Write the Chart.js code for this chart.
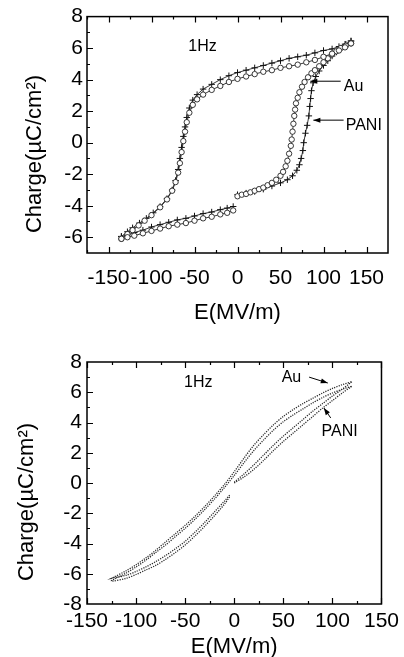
<!DOCTYPE html>
<html>
<head>
<meta charset="utf-8">
<script src="https://cdn.jsdelivr.net/npm/chart.js@4.4.0/dist/chart.umd.min.js"></script>
<style>
  html, body { margin: 0; padding: 0; background: #fff; overflow: hidden; }
  #wrap { position: relative; width: 404px; height: 657px; }
  canvas { position: absolute; left: 0; }
  #top { top: 0; }
  #bottom { top: 330px; }
</style>
</head>
<body>
<div id="wrap">
  <canvas id="top" width="404" height="330"></canvas>
  <canvas id="bottom" width="404" height="330"></canvas>
</div>
<script>
// ---- top panel (1Hz, square loops) : [E (MV/m), charge (uC/cm2)] ----
const auRise = [[0,-3.4],[5,-3.3],[10,-3.25],[15,-3.15],[20,-3.05],[25,-2.95],[30,-2.85],[35,-2.7],[40,-2.55],[45,-2.35],[50,-2.1],[53,-1.85],[56,-1.5],[58,-1.15],[60,-0.7],[62,-0.2],[63,0.2],[64,0.7],[65,1.2],[66,1.7],[67,2.1],[68,2.5],[70,2.85],[72,3.2],[75,3.55],[78,3.85],[82,4.15],[86,4.4],[90,4.6],[95,4.85],[100,5.1],[105,5.35],[110,5.6],[115,5.8],[120,6.0],[126,6.15],[132,6.3]];
const auFall = [[132,6.3],[125,6.05],[118,5.85],[110,5.65],[100,5.45],[90,5.25],[80,5.1],[70,4.95],[60,4.85],[50,4.75],[40,4.6],[30,4.5],[20,4.35],[10,4.2],[0,4.05],[-10,3.85],[-20,3.6],[-30,3.35],[-40,3.05],[-47,2.75],[-52,2.4],[-56,1.9],[-59,1.3],[-61,0.7],[-63,0.1],[-65,-0.6],[-67,-1.3],[-69,-1.9],[-72,-2.5],[-76,-3.05],[-82,-3.6],[-90,-4.1],[-100,-4.6],[-108,-4.95],[-115,-5.25],[-122,-5.55],[-128,-5.8],[-135,-6.1]];
const auBack = [[-135,-6.1],[-128,-6.0],[-120,-5.9],[-110,-5.75],[-100,-5.6],[-90,-5.45],[-80,-5.3],[-70,-5.2],[-60,-5.1],[-50,-4.95],[-40,-4.8],[-30,-4.7],[-20,-4.55],[-12,-4.45],[-5,-4.3]];
const paniRise = [[0,-3.3],[10,-3.2],[20,-3.1],[30,-2.95],[40,-2.75],[50,-2.55],[58,-2.35],[64,-2.1],[69,-1.75],[72,-1.4],[74,-1.0],[76,-0.5],[77,0],[79,0.6],[81,1.1],[83,1.7],[84,2.3],[85,2.8],[86,3.3],[88,3.8],[91,4.2],[95,4.55],[100,4.9],[105,5.2],[110,5.5],[115,5.75],[120,6.0],[126,6.25],[132,6.45]];
const paniFall = [[132,6.45],[125,6.25],[118,6.1],[110,5.95],[100,5.85],[90,5.7],[80,5.55],[70,5.45],[60,5.35],[50,5.2],[40,5.05],[30,4.9],[20,4.75],[10,4.6],[0,4.45],[-10,4.25],[-20,4.0],[-30,3.7],[-40,3.4],[-47,3.05],[-52,2.7],[-56,2.2],[-59,1.6],[-61,1.0],[-63,0.4],[-65,-0.3],[-67,-1.0],[-69,-1.7],[-72,-2.4],[-76,-3.0],[-82,-3.55],[-90,-4.05],[-98,-4.45],[-106,-4.8],[-114,-5.1],[-122,-5.4],[-128,-5.65],[-135,-5.95]];
const paniBack = [[-135,-5.95],[-128,-5.85],[-120,-5.7],[-110,-5.55],[-100,-5.35],[-90,-5.2],[-80,-5.05],[-70,-4.9],[-60,-4.8],[-50,-4.65],[-40,-4.5],[-30,-4.4],[-20,-4.25],[-12,-4.15],[-5,-4.05]];

// ---- bottom panel (1Hz, slim loops) ----
const auRise2 = [[0,0.05],[10,0.6],[20,1.2],[30,1.85],[40,2.5],[50,3.1],[60,3.65],[70,4.2],[80,4.75],[90,5.25],[100,5.75],[110,6.2],[120,6.7]];
const auFall2 = [[120,6.7],[110,6.5],[100,6.25],[90,5.95],[80,5.6],[70,5.25],[60,4.85],[50,4.4],[40,3.85],[30,3.2],[20,2.5],[10,1.65],[0,0.75],[-10,-0.1],[-20,-0.85],[-30,-1.55],[-40,-2.2],[-50,-2.8],[-60,-3.35],[-70,-3.9],[-80,-4.45],[-90,-4.95],[-100,-5.4],[-110,-5.8],[-125,-6.3]];
const auBack2 = [[-125,-6.3],[-110,-6.1],[-100,-5.85],[-90,-5.55],[-80,-5.2],[-70,-4.8],[-60,-4.35],[-50,-3.85],[-40,-3.25],[-30,-2.6],[-20,-1.9],[-10,-1.2],[-4,-0.75]];
const paniRise2 = [[0,0],[10,0.4],[20,0.9],[30,1.5],[40,2.15],[50,2.75],[60,3.3],[70,3.85],[80,4.4],[90,4.95],[100,5.45],[110,5.95],[120,6.4]];
const paniFall2 = [[120,6.4],[110,6.2],[100,5.95],[90,5.65],[80,5.3],[70,4.9],[60,4.5],[50,4.05],[40,3.5],[30,2.85],[20,2.15],[10,1.35],[0,0.5],[-10,-0.3],[-20,-1.05],[-30,-1.75],[-40,-2.4],[-50,-3.0],[-60,-3.55],[-70,-4.1],[-80,-4.6],[-90,-5.1],[-100,-5.55],[-110,-5.95],[-125,-6.45]];
const paniBack2 = [[-125,-6.5],[-110,-6.3],[-100,-6.05],[-90,-5.75],[-80,-5.45],[-70,-5.05],[-60,-4.6],[-50,-4.1],[-40,-3.5],[-30,-2.85],[-20,-2.15],[-10,-1.4],[-4,-0.85]];

// tick labels
const xTicks = [-150, -100, -50, 0, 50, 100, 150];
const yTicksTop = [-6, -4, -2, 0, 2, 4, 6, 8];
const yTicksBottom = [-8, -6, -4, -2, 0, 2, 4, 6, 8];

const pts = arr => arr.map(p => ({ x: p[0], y: p[1] }));
const FONT = "'Liberation Sans', Arial, sans-serif";
Chart.defaults.font.family = FONT;
Chart.defaults.color = '#000';

// frame, inward ticks, y title and annotations
const decor = {
  id: 'decor',
  afterDraw(chart, args, o) {
    const { ctx, chartArea: a, scales: { x, y } } = chart;
    ctx.save();
    ctx.strokeStyle = '#000';
    ctx.lineWidth = 1.5;
    ctx.strokeRect(a.left, a.top, a.right - a.left, a.bottom - a.top);
    ctx.lineWidth = 1.2;
    ctx.beginPath();
    const xs = o.xTicks;
    xs.forEach((v, i) => {
      const marks = [[v, 6]];
      if (i < xs.length - 1) marks.push([(v + xs[i + 1]) / 2, 3]);
      if (i === 0) marks.push([v - (xs[1] - xs[0]) / 2, 3]);
      marks.forEach(([val, len]) => {
        if (val < x.min || val > x.max) return;
        const px = Math.round(x.getPixelForValue(val)) + 0.5;
        ctx.moveTo(px, a.bottom); ctx.lineTo(px, a.bottom - len);
        ctx.moveTo(px, a.top); ctx.lineTo(px, a.top + len);
      });
    });
    const ys = o.yTicks;
    ys.forEach((v, i) => {
      const marks = [[v, 6]];
      if (i < ys.length - 1) marks.push([(v + ys[i + 1]) / 2, 3]);
      if (i === 0) marks.push([v - (ys[1] - ys[0]) / 2, 3]);
      marks.forEach(([val, len]) => {
        if (val <= y.min || val >= y.max) return;
        const py = Math.round(y.getPixelForValue(val)) + 0.5;
        ctx.moveTo(a.left, py); ctx.lineTo(a.left + len, py);
      });
    });
    ctx.stroke();

    // y title
    ctx.fillStyle = '#000';
    ctx.font = '22px ' + FONT;
    ctx.textAlign = 'center';
    ctx.textBaseline = 'middle';
    ctx.save();
    ctx.translate(o.yTitle.x, o.yTitle.y);
    ctx.rotate(-Math.PI / 2);
    ctx.fillText('Charge(µC/cm²)', 0, 0);
    ctx.restore();

    // labels
    ctx.font = '16px ' + FONT;
    o.labels.forEach(l => {
      ctx.fillText(l.text, x.getPixelForValue(l.x), y.getPixelForValue(l.y));
    });
    // arrows
    ctx.lineWidth = 1;
    o.arrows.forEach(ar => {
      const x1 = x.getPixelForValue(ar.from[0]), y1 = y.getPixelForValue(ar.from[1]);
      const x2 = x.getPixelForValue(ar.to[0]), y2 = y.getPixelForValue(ar.to[1]);
      const ang = Math.atan2(y2 - y1, x2 - x1);
      ctx.beginPath();
      ctx.moveTo(x1, y1); ctx.lineTo(x2, y2);
      ctx.stroke();
      ctx.beginPath();
      ctx.moveTo(x2, y2);
      ctx.lineTo(x2 - 7 * Math.cos(ang) + 2.5 * Math.sin(ang), y2 - 7 * Math.sin(ang) - 2.5 * Math.cos(ang));
      ctx.lineTo(x2 - 7 * Math.cos(ang) - 2.5 * Math.sin(ang), y2 - 7 * Math.sin(ang) + 2.5 * Math.cos(ang));
      ctx.closePath();
      ctx.fill();
    });
    ctx.restore();
  }
};

function axis(min, max, ticks, pad, fit) {
  return {
    type: 'linear', min, max,
    grid: { display: false, drawTicks: false },
    border: { display: false },
    afterBuildTicks: s => { s.ticks = ticks.map(v => ({ value: v })); },
    afterFit: fit,
    ticks: { color: '#000', font: { size: 21 }, padding: pad, autoSkip: false, maxRotation: 0 }
  };
}

const loopStyle = {
  circle: { showLine: true, borderColor: '#222', borderWidth: 0.9, pointStyle: 'circle', pointRadius: 2.7,
            pointBorderWidth: 0.9, pointBorderColor: '#222', pointBackgroundColor: '#fff' },
  cross: { showLine: true, borderColor: '#222', borderWidth: 0.9, pointStyle: 'cross', pointRadius: 3.2,
           pointBorderWidth: 1, pointBorderColor: '#111' },
  dots: { showLine: true, borderColor: '#2a2a2a', borderWidth: 1.3, borderDash: [1.2, 1.2], pointRadius: 0, tension: 0.3 }
};

new Chart(document.getElementById('top'), {
  type: 'scatter',
  data: {
    datasets: [
      { label: 'Au', data: pts([...auRise, ...auFall, ...auBack]), ...loopStyle.circle },
      { label: 'PANI', data: pts([...paniRise, ...paniFall, ...paniBack]), ...loopStyle.cross }
    ]
  },
  plugins: [decor],
  options: {
    responsive: false, animation: false,
    layout: { padding: { left: 0, right: 16, top: 11, bottom: 0 } },
    scales: {
      x: { ...axis(-175, 175, xTicks, 13, s => { s.height = 77; }),
           title: { display: true, text: 'E(MV/m)', color: '#000', font: { size: 22 }, padding: { top: 0, bottom: 4 } } },
      y: axis(-7, 8, yTicksTop, 4, s => { s.width = 87; })
    },
    plugins: {
      legend: { display: false }, tooltip: { enabled: false },
      decor: {
        xTicks, yTicks: yTicksTop, yTitle: { x: 35, y: 154 },
        labels: [{ text: '1Hz', x: -40.7, y: 6.08 }, { text: 'Au', x: 135, y: 3.54 }, { text: 'PANI', x: 146.8, y: 1.06 }],
        arrows: [{ from: [120, 3.9], to: [84.7, 3.9] }, { from: [123.4, 1.43], to: [88.2, 1.43] }]
      }
    }
  }
});

new Chart(document.getElementById('bottom'), {
  type: 'scatter',
  data: {
    datasets: [
      { label: 'Au', data: pts([...auRise2, ...auFall2, ...auBack2]), ...loopStyle.dots },
      { label: 'PANI', data: pts([...paniRise2, ...paniFall2, ...paniBack2]), ...loopStyle.dots }
    ]
  },
  plugins: [decor],
  options: {
    responsive: false, animation: false,
    layout: { padding: { left: 0, right: 17, top: 32, bottom: 0 } },
    scales: {
      x: { ...axis(-150, 150, xTicks, 5, s => { s.height = 56; }),
           title: { display: true, text: 'E(MV/m)', color: '#000', font: { size: 22 }, padding: { top: 0, bottom: 0 } } },
      y: axis(-8, 8, yTicksBottom, 5, s => { s.width = 87; })
    },
    plugins: {
      legend: { display: false }, tooltip: { enabled: false },
      decor: {
        xTicks, yTicks: yTicksBottom, yTitle: { x: 27, y: 172 },
        labels: [{ text: '1Hz', x: -36.7, y: 6.61 }, { text: 'Au', x: 58.3, y: 6.94 }, { text: 'PANI', x: 107.3, y: 3.37 }],
        arrows: [{ from: [76.3, 7.0], to: [95.3, 6.61] }, { from: [98.3, 4.3], to: [91.3, 4.96] }]
      }
    }
  }
});
</script>
</body>
</html>
